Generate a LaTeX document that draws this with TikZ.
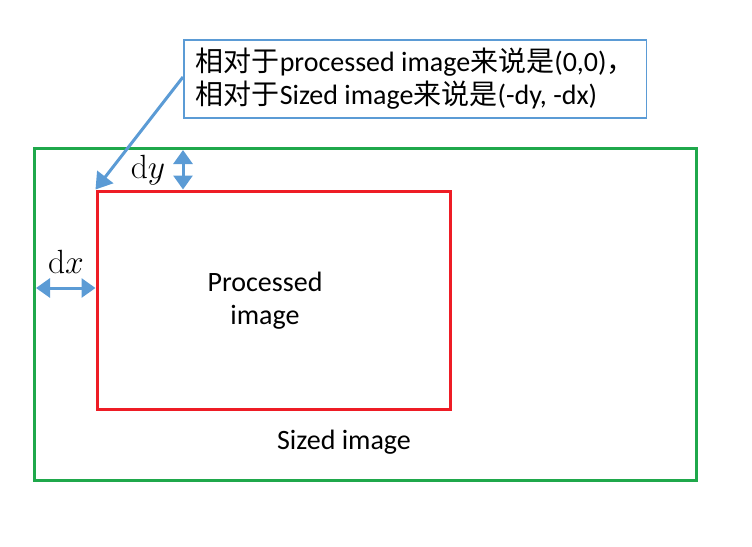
\documentclass[tikz,border=0pt]{standalone}
\usepackage[no-math]{fontspec}
\setmainfont{Carlito}
\newfontfamily\cjk{Noto Sans CJK SC}
\usetikzlibrary{arrows.meta}
\definecolor{sizedgreen}{HTML}{1FA84B}
\definecolor{procred}{HTML}{EE1C25}
\definecolor{noteblue}{HTML}{5B9BD5}
\tikzset{
    every node/.append style={font=\fontsize{28}{33}\selectfont}}

\begin{document}
\begin{tikzpicture}
  [x=1pt,y=-1pt,
  	frame/.style={draw,line width=3pt,inner sep=0pt},
  	dim/.style={noteblue,line width=3pt,{Triangle[width=19pt,length=14pt]}-{Triangle[width=19pt,length=14pt]}},
  	lbl/.style={inner sep=0pt,align=center}
  ]
  \useasboundingbox (0,0) rectangle (752,546);
  \node [frame,draw=sizedgreen,minimum width=662pt,minimum height=332pt] (sized) at (365,314) {};
  \node [frame,draw=procred,minimum width=353pt,minimum height=218pt] (proc) at (273.5,300) {};
  \node [lbl] (proctext) at (265,301) {Processed\\image};
  \node [lbl] (sizedtext) at (344,442) {Sized image};
  \node [draw=noteblue,line width=1.5pt,minimum height=78pt,anchor=west,
  	align=left,inner xsep=12pt,inner ysep=0pt] (note) at (183,79)
  	{{\cjk 相对于}processed image{\cjk 来说是}(0,0){\cjk ，}\\{\cjk 相对于}Sized image{\cjk 来说是}(-dy, -dx)};
  \node [lbl] (dylbl) at (148,170) {\scalebox{1.35}{$\mathrm{d}y$}};
  \node [lbl] (dxlbl) at (66,262) {\scalebox{1.35}{$\mathrm{d}x$}};
  \coordinate (dytop) at (183,150);
  \coordinate (dxleft) at (36,288);
  \coordinate (notefoot) at (183,77);
  \draw [dim] (dytop) -- (dytop |- proc.north);
  \draw [dim] (dxleft) -- (dxleft -| proc.west);
  \draw [noteblue,line width=3pt,-{Triangle[width=20pt,length=16pt]}] (notefoot) -- (proc.north west);
\end{tikzpicture}
\end{document}
